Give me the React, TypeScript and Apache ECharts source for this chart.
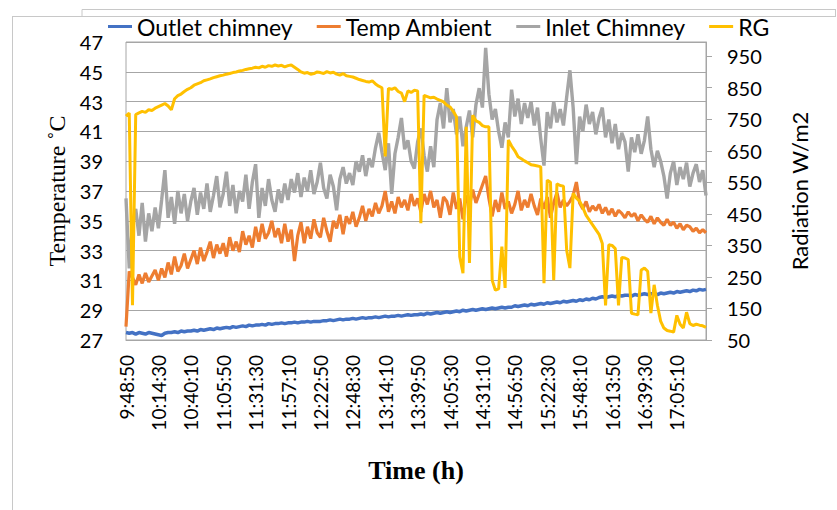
import React, { useEffect, useRef } from "react";
import * as echarts from "echarts";

// ---------- data ----------
const START_TIME = "9:48:50";
const STEP_SECONDS = 154;
const POINT_COUNT = 180;

const tempTicks = [27, 29, 31, 33, 35, 37, 39, 41, 43, 45, 47];
const radTicks = [50, 150, 250, 350, 450, 550, 650, 750, 850, 950];

const seriesNames = ["Outlet chimney", "Temp Ambient", "Inlet Chimney", "RG"];

const outletChimney = [
  27.5, 27.45, 27.5, 27.4, 27.5, 27.45, 27.4, 27.5, 27.45, 27.4,
  27.35, 27.3, 27.45, 27.5, 27.5, 27.55, 27.5, 27.6, 27.55, 27.6,
  27.6, 27.65, 27.6, 27.7, 27.65, 27.7, 27.75, 27.7, 27.8, 27.75,
  27.8, 27.85, 27.8, 27.9, 27.85, 27.9, 27.95, 27.9, 28.0, 27.95,
  28.0, 28.0, 28.05, 28.0, 28.1, 28.05, 28.1, 28.1, 28.15, 28.1,
  28.15, 28.15, 28.2, 28.15, 28.2, 28.2, 28.25, 28.2, 28.25, 28.25,
  28.25, 28.3, 28.3, 28.35, 28.3, 28.35, 28.4, 28.35, 28.4,
  28.4, 28.45, 28.4, 28.45, 28.5, 28.45, 28.5, 28.5, 28.55, 28.5,
  28.55, 28.6, 28.55, 28.6, 28.6, 28.65, 28.6, 28.65, 28.7, 28.65,
  28.7, 28.7, 28.75, 28.7, 28.8, 28.75, 28.8, 28.85, 28.8, 28.85,
  28.9, 28.85, 28.9, 28.95, 28.9, 29.0, 28.95, 29.0, 29.05, 29.0,
  29.05, 29.1, 29.05, 29.1, 29.15, 29.1, 29.15, 29.2, 29.15, 29.2,
  29.2, 29.3, 29.25, 29.3, 29.35, 29.3, 29.4, 29.35, 29.4,
  29.45, 29.4, 29.5, 29.45, 29.5, 29.55, 29.5, 29.6, 29.55, 29.6,
  29.65, 29.6, 29.7, 29.65, 29.75, 29.7, 29.8, 29.75, 29.85, 29.9,
  29.85, 29.9, 29.95, 29.9, 30.0, 29.95, 30.0, 30.0, 29.95, 30.05,
  30.0, 30.05, 30.1, 30.05, 30.1, 30.1, 30.05, 30.15, 30.1, 30.15,
  30.2, 30.15, 30.25, 30.2, 30.25, 30.3, 30.25, 30.35, 30.3, 30.4,
  30.35, 30.4,
];

const tempAmbient = [
  27.9, 31.6, 31.2, 30.7, 31.4, 30.8, 31.5, 30.9, 31.3, 31.7,
  31.0, 31.8, 31.2, 32.2, 31.4, 32.6, 31.6, 32.0, 32.8, 31.8,
  32.4, 33.0, 32.1, 33.2, 32.3, 32.9, 33.6, 32.5, 33.4, 32.8,
  33.5, 32.6, 33.9, 33.0, 33.6, 32.9, 34.3, 33.4, 34.0, 33.2,
  34.6, 33.6, 34.8, 33.8, 34.2, 35.0, 33.9, 34.5, 33.5, 34.8,
  33.6, 34.4, 32.3, 34.0, 34.9, 33.5, 34.6, 33.8, 35.1, 34.2,
  33.9, 35.2, 34.3, 33.6, 35.0, 34.5, 35.4, 34.1, 35.3,
  34.8, 35.6, 34.6, 35.2, 36.0, 35.0, 35.8, 35.3, 36.2, 35.5,
  36.0, 37.0, 35.6, 36.3, 35.5, 36.6, 35.9, 36.4, 35.7, 36.8,
  36.0, 36.5, 35.6, 36.8, 36.1, 37.0, 35.9, 36.4, 35.2, 36.6,
  36.3, 35.4, 36.9, 35.8, 36.5, 35.1, 36.7, 36.0, 37.1, 36.2,
  36.8, 37.4, 38.0, 36.5, 35.3, 36.4, 35.6, 36.9, 35.8, 36.3,
  35.5, 36.1, 37.0, 35.7, 36.4, 35.9, 36.8, 36.0, 35.4,
  36.5, 35.8, 36.6, 35.2, 36.2, 36.9, 35.9, 36.4, 36.0, 36.3,
  36.7, 37.6, 36.2, 35.8, 36.3, 35.6, 36.0, 35.7, 36.1, 35.5,
  35.9, 35.4, 35.8, 35.3, 35.7, 35.5, 35.2, 35.6, 35.3, 35.5,
  35.0, 35.4, 35.1, 34.9, 35.3, 34.8, 35.2, 34.9, 34.7, 35.1,
  34.7, 34.9, 34.5, 34.8, 34.4, 34.7, 34.6, 34.3, 34.5, 34.2,
  34.4, 34.2,
];

const inletChimney = [
  36.5, 31.8, 34.7, 35.8, 34.0, 36.2, 33.6, 35.5, 34.3, 35.9,
  34.5, 36.4, 38.4, 35.2, 36.6, 34.8, 37.0, 35.5, 36.8, 35.0,
  36.3, 37.2, 35.4, 36.9, 35.8, 37.5, 35.6, 36.7, 38.0, 35.9,
  36.8, 38.3, 36.0, 37.4, 35.5, 37.0, 36.3, 38.1, 35.8, 37.6,
  38.8, 35.2, 37.2, 36.0, 37.8, 36.4, 35.6, 37.1, 36.2, 37.5,
  36.4, 37.8, 36.9, 38.2, 36.6, 37.9, 37.0, 38.4, 36.8, 37.6,
  38.9, 37.2, 36.5, 38.1, 37.3, 35.7, 37.8, 38.6, 37.5,
  38.2, 37.4, 39.0, 38.3, 39.4, 38.0, 39.2, 38.6, 39.9, 40.9,
  39.6, 38.4, 40.2, 36.8, 39.5, 40.6, 41.9, 39.8, 40.4, 39.0,
  38.5, 40.3, 41.2, 39.4, 38.3, 40.0, 38.6, 41.8, 42.9, 41.2,
  43.9, 41.6, 42.5, 40.8, 42.0, 40.0, 41.3, 42.4, 40.6, 42.8,
  43.9, 42.6, 46.6, 43.5, 41.8, 42.5, 41.0, 39.9, 41.6, 40.6,
  43.8, 42.0, 43.2, 41.5, 42.9, 41.9, 43.0, 41.4, 42.6,
  40.5, 38.7, 42.3, 41.2, 43.0, 41.6, 42.5, 41.4, 43.3, 45.1,
  42.6, 38.8, 42.0, 41.0, 42.8, 41.5, 42.3, 40.8, 41.9, 42.6,
  40.6, 41.8, 40.2, 41.5, 39.8, 40.9, 40.3, 38.3, 40.6, 39.6,
  40.8, 39.5, 40.4, 42.0, 39.8, 38.6, 39.7, 39.0, 38.0, 36.5,
  38.2, 39.0, 37.4, 38.6, 37.8, 38.9, 37.3, 38.2, 38.8, 37.6,
  38.4, 36.7,
];

const radiationRG = [
  760, 770, 160, 765, 770, 775, 772, 780, 778, 785,
  790, 795, 800, 792, 780, 815, 825, 830, 838, 845,
  850, 858, 862, 866, 872, 875, 878, 882, 885, 888,
  890, 893, 895, 898, 900, 903, 905, 908, 910, 912,
  915, 913, 918, 915, 920, 918, 922, 919, 921, 916,
  920, 922, 915, 908, 900, 896, 898, 893, 895, 900,
  898, 895, 901, 897, 899, 893, 890, 895, 888,
  886, 884, 880, 876, 873, 870, 868, 872, 862, 855,
  850, 632, 848, 845, 850, 838, 833, 806, 840, 835,
  842, 840, 420, 826, 822, 818, 820, 814, 810, 805,
  795, 789, 775, 758, 314, 262, 726, 294, 763, 745,
  740, 730, 726, 726, 240, 208, 212, 346, 215, 684,
  665, 650, 631, 625, 618, 612, 606, 604, 602,
  599, 230, 557, 550, 240, 545, 540, 538, 335, 278,
  515, 500, 490, 470, 445, 430, 415, 400, 385, 356,
  160, 352, 350, 340, 160, 312, 310, 305, 135, 132,
  130, 272, 278, 268, 135, 225, 160, 110, 88, 80,
  78, 75, 128, 100, 88, 138, 102, 96, 100, 97,
  95, 90,
];

function buildTimes(start: string, step: number, count: number): string[] {
  const [h, m, s] = start.split(":").map(Number);
  const base = h * 3600 + m * 60 + s;
  const out: string[] = [];
  for (let i = 0; i < count; i++) {
    const t = base + i * step;
    const hh = Math.floor(t / 3600);
    const mm = Math.floor((t % 3600) / 60);
    const ss = t % 60;
    out.push(`${hh}:${String(mm).padStart(2, "0")}:${String(ss).padStart(2, "0")}`);
  }
  return out;
}

const times = buildTimes(START_TIME, STEP_SECONDS, POINT_COUNT);

const colors = ["#4472C4", "#ED7D31", "#A5A5A5", "#FFC000"];
const SANS = "Lato, 'Open Sans', sans-serif";
const SERIF = "'Liberation Serif', 'Times New Roman', serif";

export default function App() {
  const ref = useRef<HTMLDivElement>(null);

  useEffect(() => {
    if (!ref.current) return;
    const chart = echarts.init(ref.current, undefined, { renderer: "svg" });
    const frame = "#c8c8c8";
    chart.setOption({
      animation: false,
      backgroundColor: "#ffffff",
      color: colors,
      textStyle: { fontFamily: SANS },
      graphic: [
        { type: "line", shape: { x1: 12, y1: 16.5, x2: 836, y2: 16.5 }, style: { stroke: frame, lineWidth: 1 } },
        { type: "line", shape: { x1: 82, y1: 9.5, x2: 836, y2: 9.5 }, style: { stroke: frame, lineWidth: 1 } },
        { type: "line", shape: { x1: 82, y1: 9.5, x2: 82, y2: 16.5 }, style: { stroke: frame, lineWidth: 1 } },
        { type: "line", shape: { x1: 835.5, y1: 9.5, x2: 835.5, y2: 16.5 }, style: { stroke: frame, lineWidth: 1 } },
        { type: "line", shape: { x1: 12.5, y1: 16.5, x2: 12.5, y2: 510 }, style: { stroke: frame, lineWidth: 1 } },
      ],
      legend: {
        data: seriesNames,
        left: 103,
        top: 10,
        icon: "rect",
        itemWidth: 24,
        itemHeight: 3,
        itemGap: 24,
        textStyle: { fontFamily: SANS, fontSize: 23, color: "#000" },
      },
      grid: {
        left: 126,
        right: 131,
        top: 42,
        bottom: 170,
        show: true,
        borderColor: "#a6a6a6",
        borderWidth: 1,
      },
      xAxis: {
        type: "category",
        data: times,
        boundaryGap: false,
        axisLine: { show: true, lineStyle: { color: "#a6a6a6" } },
        axisTick: { show: false },
        axisLabel: {
          interval: 9,
          rotate: 90,
          margin: 15,
          fontFamily: SANS,
          fontSize: 19,
          color: "#000",
        },
        name: "Time (h)",
        nameLocation: "middle",
        nameGap: 117,
        nameTextStyle: { fontFamily: SERIF, fontWeight: "bold", fontSize: 26, color: "#000" },
      },
      yAxis: [
        {
          type: "value",
          min: 27,
          max: 47,
          position: "left",
          axisLine: { show: false },
          axisTick: { show: false, customValues: tempTicks },
          axisLabel: { customValues: tempTicks, margin: 23, fontFamily: SANS, fontSize: 20, color: "#000" },
          splitLine: { show: true, lineStyle: { color: "#a6a6a6", width: 1 } },
          name: "Temperature ˚C",
          nameLocation: "middle",
          nameRotate: 90,
          nameGap: 55,
          nameTextStyle: { fontFamily: SERIF, fontSize: 24, color: "#000" },
        },
        {
          type: "value",
          min: 50,
          max: 995,
          position: "right",
          axisLine: { show: true, lineStyle: { color: "#a6a6a6" } },
          axisTick: { show: true, length: 6, customValues: radTicks, lineStyle: { color: "#a6a6a6" } },
          axisLabel: { customValues: radTicks, margin: 21, fontFamily: SANS, fontSize: 20, color: "#000" },
          splitLine: { show: false },
          name: "Radiation W/m2",
          nameLocation: "middle",
          nameRotate: 90,
          nameGap: 82,
          nameTextStyle: { fontFamily: SANS, fontSize: 22, color: "#000", verticalAlign: "top" },
        },
      ],
      series: [
        { name: seriesNames[0], type: "line", data: outletChimney, yAxisIndex: 0, showSymbol: false, symbol: "none", lineStyle: { width: 3.5 } },
        { name: seriesNames[1], type: "line", data: tempAmbient, yAxisIndex: 0, showSymbol: false, symbol: "none", lineStyle: { width: 3.2 } },
        { name: seriesNames[2], type: "line", data: inletChimney, yAxisIndex: 0, showSymbol: false, symbol: "none", lineStyle: { width: 3.4 } },
        { name: seriesNames[3], type: "line", data: radiationRG, yAxisIndex: 1, showSymbol: false, symbol: "none", lineStyle: { width: 3 } },
      ],
    });
    return () => chart.dispose();
  }, []);

  return <div ref={ref} style={{ width: 837, height: 510, position: "absolute", left: 0, top: 0 }} />;
}
